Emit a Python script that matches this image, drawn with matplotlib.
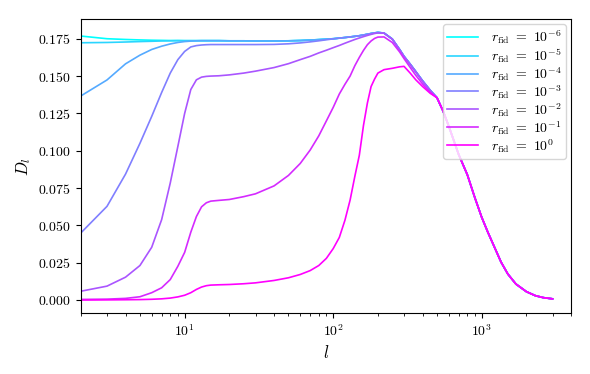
import numpy as np
import matplotlib
matplotlib.use('Agg')
import matplotlib.pyplot as plt

plt.rcParams['font.family'] = 'serif'
plt.rcParams['font.serif'] = ['cmr10']
plt.rcParams['mathtext.fontset'] = 'cm'
plt.rcParams['axes.formatter.use_mathtext'] = True
plt.rcParams['axes.unicode_minus'] = False

# multipoles: low/mid part (per curve) and the common high-l tail
ell_head = [2, 3, 4, 5, 6, 7, 8, 9, 10, 11, 12, 13, 14, 15, 17, 20, 25, 30,
            40, 50, 60, 70, 80, 90, 100, 110, 120, 130, 140, 150, 160, 170, 180, 190, 200,
            220, 250, 280, 300, 330, 360, 400, 450]
ell_tail = [500, 550, 600, 700, 800, 900, 1000, 1100, 1200, 1350, 1500, 1700, 2000, 2300, 2600, 3000]

# D_l tail, identical for all r_fid
D_tail = [0.1355, 0.1265, 0.1165, 0.0975, 0.084, 0.0685, 0.0555, 0.0455, 0.037, 0.0255,
          0.0175, 0.0108, 0.0057, 0.003, 0.0017, 0.0009]

D_r1e6 = [0.1768, 0.1750, 0.1745, 0.1742, 0.1740, 0.1739, 0.1738, 0.1738, 0.1737, 0.1737,
          0.1737, 0.1737, 0.1737, 0.1737, 0.1737, 0.1736, 0.1736, 0.1735,
          0.1735, 0.1736, 0.1738, 0.1741, 0.1744, 0.1747, 0.175, 0.1754, 0.1758, 0.1762,
          0.1766, 0.177, 0.1775, 0.178, 0.1785, 0.1789, 0.1792,
          0.1788, 0.1748, 0.1678, 0.1632, 0.158, 0.153, 0.1468, 0.1405]
D_r1e5 = [0.1723, 0.1725, 0.1728, 0.1731, 0.1733, 0.1735, 0.1736, 0.1737, 0.1737, 0.1737,
          0.1737, 0.1737, 0.1737, 0.1737, 0.1737, 0.1736, 0.1736, 0.1735,
          0.1735, 0.1736, 0.1738, 0.1741, 0.1744, 0.1747, 0.175, 0.1754, 0.1758, 0.1762,
          0.1766, 0.177, 0.1775, 0.178, 0.1785, 0.1789, 0.1792,
          0.1788, 0.1748, 0.1678, 0.1632, 0.158, 0.153, 0.1468, 0.1405]
D_r1e4 = [0.1367, 0.1474, 0.1582, 0.1640, 0.1678, 0.1700, 0.1715, 0.1725, 0.1731, 0.1734,
          0.1736, 0.1737, 0.1737, 0.1737, 0.1737, 0.1736, 0.1736, 0.1735,
          0.1735, 0.1736, 0.1738, 0.1741, 0.1744, 0.1747, 0.175, 0.1754, 0.1758, 0.1762,
          0.1766, 0.177, 0.1775, 0.178, 0.1785, 0.1789, 0.1792,
          0.1788, 0.1748, 0.1678, 0.1632, 0.158, 0.153, 0.1468, 0.1405]
D_r1e3 = [0.045, 0.0628, 0.0844, 0.105, 0.123, 0.139, 0.152, 0.161, 0.1665, 0.1695,
          0.1704, 0.1708, 0.1710, 0.1711, 0.1711, 0.1711, 0.1711, 0.1711,
          0.1712, 0.1716, 0.1722, 0.1729, 0.1736, 0.1743, 0.1749, 0.1754, 0.1758, 0.1762,
          0.1766, 0.177, 0.1775, 0.178, 0.1785, 0.1789, 0.1792,
          0.1788, 0.1748, 0.1678, 0.1632, 0.158, 0.153, 0.1468, 0.1405]
D_r1e2 = [0.006, 0.0094, 0.0154, 0.0232, 0.0354, 0.0539, 0.0784, 0.1029, 0.125, 0.141,
          0.1475, 0.1493, 0.1498, 0.150, 0.1502, 0.1508, 0.152, 0.1533,
          0.1557, 0.1583, 0.161, 0.1632, 0.1655, 0.1673, 0.169, 0.1705, 0.172, 0.1733,
          0.1745, 0.1755, 0.1764, 0.1772, 0.1779, 0.1785, 0.1789,
          0.1787, 0.1747, 0.1677, 0.1631, 0.1578, 0.1528, 0.1466, 0.1403]
D_r1e1 = [0.0005, 0.0007, 0.0012, 0.0023, 0.005, 0.0083, 0.0138, 0.0227, 0.032, 0.0455,
          0.056, 0.0625, 0.0652, 0.0663, 0.0668, 0.0674, 0.0693, 0.0712,
          0.0765, 0.0835, 0.0915, 0.1005, 0.110, 0.120, 0.129, 0.138, 0.1445, 0.150,
          0.157, 0.1625, 0.1672, 0.171, 0.1735, 0.1752, 0.1761,
          0.1762, 0.1725, 0.1662, 0.1617, 0.1558, 0.1505, 0.1447, 0.139]
D_r1e0 = [0.0001, 0.0002, 0.0003, 0.0004, 0.0006, 0.0009, 0.0014, 0.0022, 0.0033, 0.005,
          0.0072, 0.0088, 0.0097, 0.0101, 0.0103, 0.0105, 0.011, 0.0116,
          0.0132, 0.015, 0.0172, 0.0198, 0.0232, 0.028, 0.0345, 0.042, 0.0535, 0.067,
          0.083, 0.097, 0.117, 0.132, 0.143, 0.148, 0.152,
          0.1543, 0.1552, 0.1562, 0.1565, 0.152, 0.1475, 0.143, 0.1385]

exponents = [-6, -5, -4, -3, -2, -1, 0]
heads = [D_r1e6, D_r1e5, D_r1e4, D_r1e3, D_r1e2, D_r1e1, D_r1e0]

ell = np.array(ell_head + ell_tail)
colors = plt.cm.cool(np.linspace(0, 1, len(exponents)))

fig = plt.figure(figsize=(5.9, 3.74), dpi=100)
ax = fig.add_axes([0.137, 0.162, 0.831, 0.787])

for e, head, c in zip(exponents, heads, colors):
    D = np.array(head + D_tail)
    ax.plot(ell, D, color=c, lw=1.2, label=r'$r_{\rm fid}\ =\ 10^{%d}$' % e)

ax.set_xscale('log')
ax.set_xlim(2, 4000)
ax.set_xlabel(r'$l$', fontsize=12)
ax.set_ylabel(r'$D_l$', fontsize=12)
ax.legend(loc='upper right', fontsize=10, labelspacing=0.0, borderpad=0.3,
          handlelength=2.2, handletextpad=1.0, borderaxespad=0.35)

plt.savefig('out.png', dpi=100)
